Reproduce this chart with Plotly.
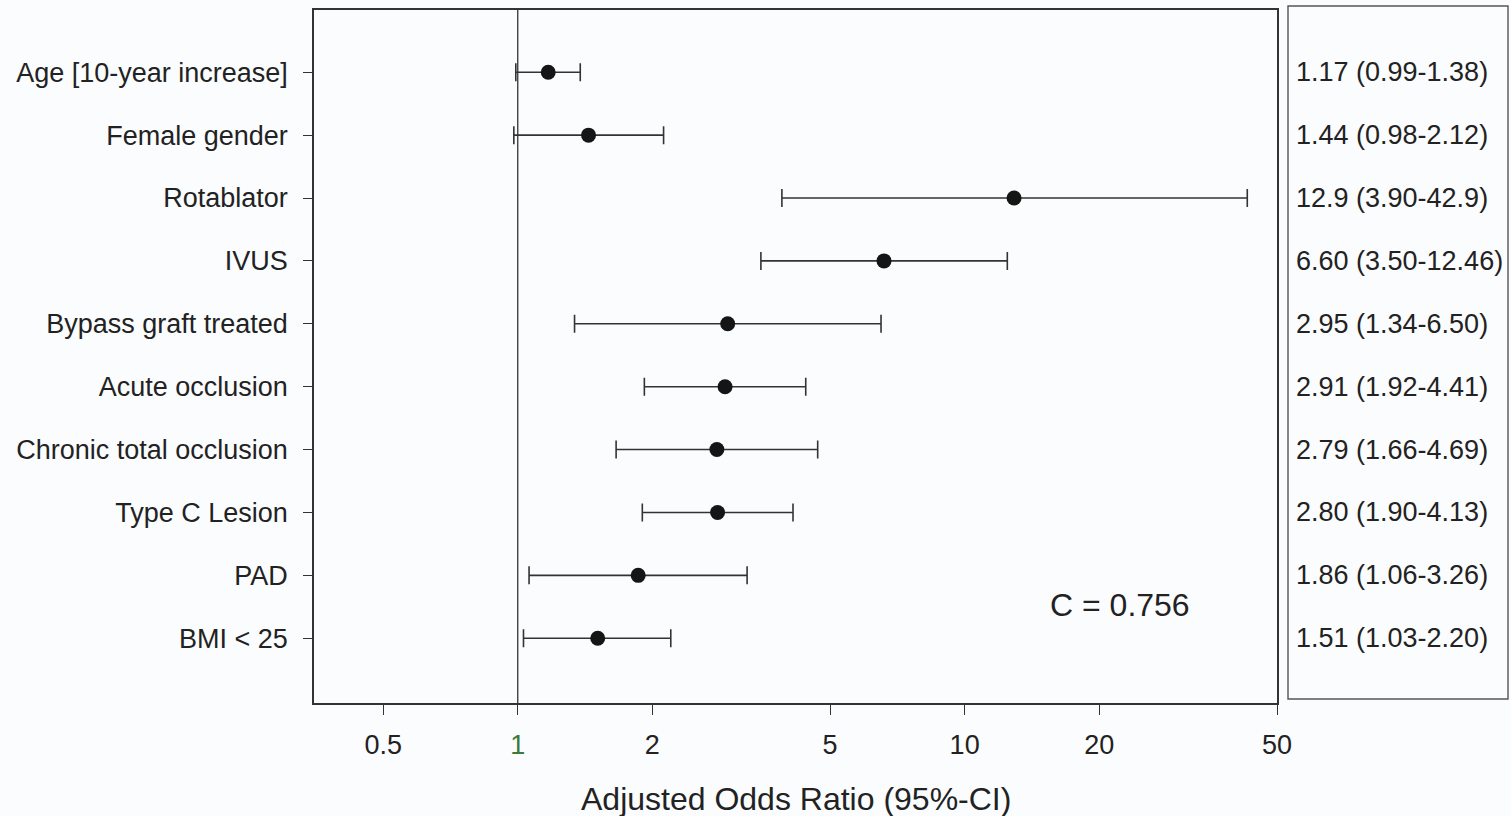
import plotly.graph_objects as go
import math

labels = ["Age [10-year increase]", "Female gender", "Rotablator", "IVUS",
          "Bypass graft treated", "Acute occlusion", "Chronic total occlusion",
          "Type C Lesion", "PAD", "BMI < 25"]
odds = [1.17, 1.44, 12.9, 6.60, 2.95, 2.91, 2.79, 2.80, 1.86, 1.51]
ci_low = [0.99, 0.98, 3.90, 3.50, 1.34, 1.92, 1.66, 1.90, 1.06, 1.03]
ci_high = [1.38, 2.12, 42.9, 12.46, 6.50, 4.41, 4.69, 4.13, 3.26, 2.20]
ci_text = ["1.17 (0.99-1.38)", "1.44 (0.98-2.12)", "12.9 (3.90-42.9)",
           "6.60 (3.50-12.46)", "2.95 (1.34-6.50)", "2.91 (1.92-4.41)",
           "2.79 (1.66-4.69)", "2.80 (1.90-4.13)", "1.86 (1.06-3.26)",
           "1.51 (1.03-2.20)"]
x_ticks = [0.5, 1, 2, 5, 10, 20, 50]
x_tick_text = ["0.5", "<span style='color:#3a7a3a'>1</span>", "2", "5", "10", "20", "50"]
c_stat = "C = 0.756"

W, H = 1511, 816
rows = list(range(len(labels)))
FONT = "Liberation Sans, Arial, sans-serif"
ink = "#222222"

fig = go.Figure()
fig.add_trace(go.Scatter(
    x=odds, y=rows, mode="markers",
    marker=dict(size=15, color="#151515"),
    error_x=dict(type="data", symmetric=False,
                 array=[h - o for h, o in zip(ci_high, odds)],
                 arrayminus=[o - l for o, l in zip(odds, ci_low)],
                 color="#333333", thickness=1.6, width=9),
    showlegend=False, hoverinfo="skip"))

x0p, x1p = 314 / W, 1277 / W
y0p, y1p = 1 - 703 / H, 1 - 10 / H

fig.update_layout(
    width=W, height=H,
    margin=dict(l=0, r=0, t=0, b=0),
    paper_bgcolor="#fbfcfe", plot_bgcolor="#fbfcfe",
    font=dict(family=FONT, color=ink, size=27),
    xaxis=dict(type="log", domain=[x0p, x1p],
               range=[math.log10(0.35), math.log10(50)],
               tickvals=x_ticks, ticktext=x_tick_text,
               ticks="outside", ticklen=10, tickwidth=1.4, tickcolor="#333",
               showline=True, linecolor="#333", linewidth=1.6, mirror=True,
               showgrid=False, zeroline=False, automargin=False,
               ticklabelstandoff=7,
               tickfont=dict(size=27, color=ink)),
    yaxis=dict(domain=[y0p, y1p], range=[10.03, -0.99],
               tickvals=rows, ticktext=labels,
               ticks="outside", ticklen=9, tickwidth=1.4, tickcolor="#333",
               showline=True, linecolor="#333", linewidth=1.6, mirror=True,
               showgrid=False, zeroline=False, automargin=False,
               ticklabelstandoff=10,
               tickfont=dict(size=27, color=ink)),
)

# reference line at OR = 1
fig.add_shape(type="line", xref="x", yref="paper", x0=1, x1=1, y0=y0p, y1=y1p,
              line=dict(color="#333", width=1.3))

# right-side box
fig.add_shape(type="rect", xref="paper", yref="paper",
              x0=1288 / W, x1=1508 / W, y0=1 - 699 / H, y1=1 - 6 / H,
              line=dict(color="#555", width=1.4), fillcolor="rgba(0,0,0,0)")

for r, t in zip(rows, ci_text):
    fig.add_annotation(x=1294 / W, xref="paper", y=r, yref="y", text=t,
                       showarrow=False, xanchor="left", yanchor="middle",
                       font=dict(size=27, color=ink))

fig.add_annotation(x=1120 / W, xref="paper", y=1 - 605 / H, yref="paper",
                   text=c_stat, showarrow=False, xanchor="center", yanchor="middle",
                   font=dict(size=32, color=ink))

fig.add_annotation(x=(314 + 1277) / 2 / W, xref="paper", y=1 - 799 / H, yref="paper",
                   text="Adjusted Odds Ratio (95%-CI)", showarrow=False,
                   xanchor="center", yanchor="middle",
                   font=dict(size=32, color=ink))

fig.write_html("out.html")
